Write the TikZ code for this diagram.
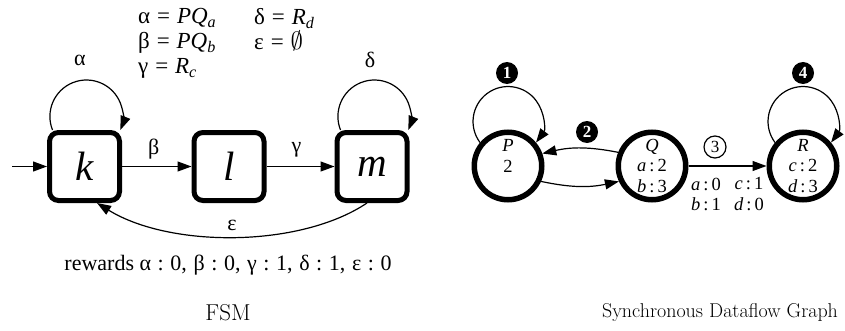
\documentclass[tikz,border=0pt]{standalone}
\usepackage{fontspec}
\newfontfamily\tms{Liberation Serif}
\usetikzlibrary{arrows.meta}
\newcommand{\rsp}{\hspace{0.3em}}
\begin{document}
\begin{tikzpicture}[x=1pt,y=1pt,
  every node/.style={font=\tms\fontsize{22}{25}\selectfont},
  deftext/.style={anchor=north west, align=left, inner sep=0pt, font=\tms\fontsize{23}{25}\selectfont},
  fsmbox/.style={draw, line width=5pt, rounded corners=9pt, minimum width=70pt, minimum height=68pt, inner sep=0pt, font=\tms\itshape\fontsize{41}{44}\selectfont},
  sdf/.style={draw, circle, line width=5.5pt, minimum size=67.5pt, inner sep=-2pt, align=center, font=\tms\fontsize{18.5}{20.5}\selectfont},
  arr/.style={-{Triangle[length=14pt,width=10pt]}, line width=1.2pt},
  badge/.style={circle, fill=black, minimum size=22pt, inner sep=0pt, text=white, font=\tms\bfseries\fontsize{17}{17}\selectfont},
  obadge/.style={circle, draw, line width=1.2pt, minimum size=22pt, inner sep=0pt, font=\tms\fontsize{17}{17}\selectfont},
  edgelab/.style={font=\tms\fontsize{18.5}{20}\selectfont},
  fsmcaption/.style={font=\fontsize{23}{26}\selectfont},
  sdfcaption/.style={font=\fontsize{20}{24}\selectfont}
]
\useasboundingbox (0,0) rectangle (845,330);
% ---------- FSM ----------
\node[fsmbox] (k) at (84.5,163.5) {k};
\node[fsmbox] (l) at (229,163.5) {l};
\node[fsmbox] (m) at (372,163.5) {m};
\coordinate (start) at (12,163.5);
\draw[arr] (start) -- (k);
\draw[arr] (k) -- node[midway, xshift=-3pt, yshift=17pt] (beta) {β} (l);
\draw[arr] (l) -- node[midway, xshift=-4pt, yshift=17pt] (gamma) {γ} (m);
\draw[arr] ([xshift=-32pt]k.north) arc[start angle=201.7, end angle=-21.7, radius=36.5pt];
\draw[arr] ([xshift=-31.5pt]m.north) arc[start angle=201.7, end angle=-21.7, radius=36.5pt];
\node (alpha) at (80,270) {α};
\node (delta) at (370,270) {δ};
\draw[arr] ([xshift=-5pt]m.south) .. controls (300,82) and (170,82) .. ([xshift=12.5pt]k.south);
\node (eps) at (232,105) {ε};
\node[deftext] (defl) at (138,322) {α\rsp=\rsp\textit{PQ}\textsubscript{\textit{a}}\\β\rsp=\rsp\textit{PQ}\textsubscript{\textit{b}}\\γ\rsp=\rsp\textit{R}\textsubscript{\textit{c}}};
\node[deftext] (defr) at (254,322) {δ\rsp=\rsp\textit{R}\textsubscript{\textit{d}}\\ε\rsp=\rsp$\emptyset$};
\node (rew) at (228,65) {rewards α\rsp:\rsp0,\rsp β\rsp:\rsp0,\rsp γ\rsp:\rsp1,\rsp δ\rsp:\rsp1,\rsp ε\rsp:\rsp0};
\node[fsmcaption] (fsm) at (228,17) {FSM};
% ---------- SDF ----------
\node[sdf] (P) at (508,164) {\textit{P}\\2\\\mbox{}};
\node[sdf] (Q) at (652,164) {\textit{Q}\\\textit{a}\,:\,2\\\textit{b}\,:\,3};
\node[sdf] (R) at (803,164) {\textit{R}\\\textit{c}\,:\,2\\\textit{d}\,:\,3};
\draw[arr] (P.140) arc[start angle=216.87, end angle=-36.87, radius=35pt];
\draw[arr] (R.140) arc[start angle=216.87, end angle=-36.87, radius=35pt];
\draw[arr] (Q.158) to[bend right=12] (P.20);
\draw[arr] (P.-25) to[bend right=12] (Q.-155);
\draw[arr] (Q) -- (R);
\node[badge] (b1) at (507,257) {1};
\node[badge] (b2) at (587,198) {2};
\node[obadge] (b3) at (715,183) {3};
\node[badge] (b4) at (803,257) {4};
\node[edgelab] (a0) at (706,146) {\textit{a}\,:\,0};
\node[edgelab] (b1l) at (706,126) {\textit{b}\,:\,1};
\node[edgelab] (c1) at (749,146) {\textit{c}\,:\,1};
\node[edgelab] (d0) at (749,126) {\textit{d}\,:\,0};
\node[sdfcaption] (sdfcap) at (720,17) {Synchronous Dataflow Graph};
\end{tikzpicture}
\end{document}
